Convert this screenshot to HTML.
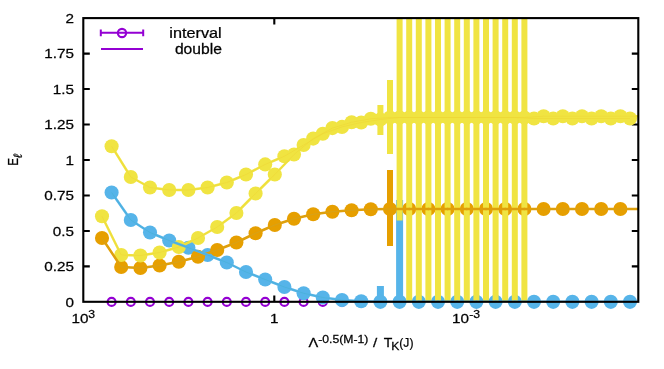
<!DOCTYPE html>
<html><head><meta charset="utf-8"><title>plot</title>
<style>
html,body{margin:0;padding:0;background:#fff;}
svg{display:block;}
text{font-family:"Liberation Sans",sans-serif;fill:#000;}
</style></head><body>
<svg width="664" height="369" viewBox="0 0 664 369">
<rect x="0" y="0" width="664" height="369" fill="#fff"/>
<defs><clipPath id="c"><rect x="83.3" y="18.1" width="555.0" height="283.7"/></clipPath></defs>

<path d="M83.3 266.39h6.5M638.3 266.39h-6.5M83.3 230.93h6.5M638.3 230.93h-6.5M83.3 195.46h6.5M638.3 195.46h-6.5M83.3 160.00h6.5M638.3 160.00h-6.5M83.3 124.54h6.5M638.3 124.54h-6.5M83.3 89.07h6.5M638.3 89.07h-6.5M83.3 53.61h6.5M638.3 53.61h-6.5M274.3 301.9v-6.5M274.3 18.1v6.5M465.3 301.9v-6.5M465.3 18.1v6.5" stroke="#000" stroke-width="2.1" fill="none"/>
<g fill="none" stroke="#9400D3" stroke-width="2.1">
<circle cx="111.60" cy="301.9" r="4.0"/>
<circle cx="130.80" cy="301.9" r="4.0"/>
<circle cx="150.00" cy="301.9" r="4.0"/>
<circle cx="169.20" cy="301.9" r="4.0"/>
<circle cx="188.40" cy="301.9" r="4.0"/>
<circle cx="207.60" cy="301.9" r="4.0"/>
<circle cx="226.80" cy="301.9" r="4.0"/>
<circle cx="246.00" cy="301.9" r="4.0"/>
<circle cx="265.20" cy="301.9" r="4.0"/>
<circle cx="284.40" cy="301.9" r="4.0"/>
<circle cx="303.60" cy="301.9" r="4.0"/>
<circle cx="322.80" cy="301.9" r="4.0"/>
<circle cx="342.00" cy="301.9" r="4.0"/>
<circle cx="361.20" cy="301.9" r="4.0"/>
<circle cx="380.40" cy="301.9" r="4.0"/>
<circle cx="399.60" cy="301.9" r="4.0"/>
<circle cx="418.80" cy="301.9" r="4.0"/>
<circle cx="438.00" cy="301.9" r="4.0"/>
<circle cx="457.20" cy="301.9" r="4.0"/>
<circle cx="476.40" cy="301.9" r="4.0"/>
<circle cx="495.60" cy="301.9" r="4.0"/>
<circle cx="514.80" cy="301.9" r="4.0"/>
<circle cx="534.00" cy="301.9" r="4.0"/>
<circle cx="553.20" cy="301.9" r="4.0"/>
<circle cx="572.40" cy="301.9" r="4.0"/>
<circle cx="591.60" cy="301.9" r="4.0"/>
<circle cx="610.80" cy="301.9" r="4.0"/>
<circle cx="630.00" cy="301.9" r="4.0"/>
</g>
<g>
<circle cx="111.60" cy="192.50" r="7.05" fill="#56B4E9"/>
<circle cx="130.80" cy="220.00" r="7.05" fill="#56B4E9"/>
<circle cx="150.00" cy="232.50" r="7.05" fill="#56B4E9"/>
<circle cx="169.20" cy="240.50" r="7.05" fill="#56B4E9"/>
<circle cx="188.40" cy="247.70" r="7.05" fill="#56B4E9"/>
<circle cx="207.60" cy="255.00" r="7.05" fill="#56B4E9"/>
<circle cx="226.80" cy="262.50" r="7.05" fill="#56B4E9"/>
<circle cx="246.00" cy="272.00" r="7.05" fill="#56B4E9"/>
<circle cx="265.20" cy="279.50" r="7.05" fill="#56B4E9"/>
<circle cx="284.40" cy="287.00" r="7.05" fill="#56B4E9"/>
<circle cx="303.60" cy="293.25" r="7.05" fill="#56B4E9"/>
<circle cx="322.80" cy="297.50" r="7.05" fill="#56B4E9"/>
<circle cx="342.00" cy="300.10" r="7.05" fill="#56B4E9"/>
<circle cx="361.20" cy="301.30" r="7.05" fill="#56B4E9"/>
<rect x="376.90" y="286.0" width="7.0" height="15.9" fill="#56B4E9" clip-path="url(#c)"/>
<circle cx="380.40" cy="301.85" r="7.05" fill="#56B4E9"/>
<rect x="396.10" y="200.0" width="7.0" height="101.9" fill="#56B4E9" clip-path="url(#c)"/>
<circle cx="399.60" cy="301.85" r="7.05" fill="#56B4E9"/>
<circle cx="418.80" cy="301.85" r="7.05" fill="#56B4E9"/>
<circle cx="438.00" cy="301.85" r="7.05" fill="#56B4E9"/>
<circle cx="457.20" cy="301.85" r="7.05" fill="#56B4E9"/>
<circle cx="476.40" cy="301.85" r="7.05" fill="#56B4E9"/>
<circle cx="495.60" cy="301.85" r="7.05" fill="#56B4E9"/>
<circle cx="514.80" cy="301.85" r="7.05" fill="#56B4E9"/>
<circle cx="534.00" cy="301.85" r="7.05" fill="#56B4E9"/>
<circle cx="553.20" cy="301.85" r="7.05" fill="#56B4E9"/>
<circle cx="572.40" cy="301.85" r="7.05" fill="#56B4E9"/>
<circle cx="591.60" cy="301.85" r="7.05" fill="#56B4E9"/>
<circle cx="610.80" cy="301.85" r="7.05" fill="#56B4E9"/>
<circle cx="630.00" cy="301.85" r="7.05" fill="#56B4E9"/>
<circle cx="102.00" cy="238.00" r="7.05" fill="#E69F00"/>
<circle cx="121.20" cy="267.00" r="7.05" fill="#E69F00"/>
<circle cx="140.40" cy="268.00" r="7.05" fill="#E69F00"/>
<circle cx="159.60" cy="265.50" r="7.05" fill="#E69F00"/>
<circle cx="178.80" cy="261.75" r="7.05" fill="#E69F00"/>
<circle cx="198.00" cy="256.75" r="7.05" fill="#E69F00"/>
<circle cx="217.20" cy="250.00" r="7.05" fill="#E69F00"/>
<circle cx="236.40" cy="242.50" r="7.05" fill="#E69F00"/>
<circle cx="255.60" cy="233.25" r="7.05" fill="#E69F00"/>
<circle cx="274.80" cy="225.00" r="7.05" fill="#E69F00"/>
<circle cx="294.00" cy="218.75" r="7.05" fill="#E69F00"/>
<circle cx="313.20" cy="214.25" r="7.05" fill="#E69F00"/>
<circle cx="332.40" cy="211.75" r="7.05" fill="#E69F00"/>
<circle cx="351.60" cy="210.25" r="7.05" fill="#E69F00"/>
<circle cx="370.80" cy="209.30" r="7.05" fill="#E69F00"/>
<rect x="387.00" y="170.0" width="6.0" height="76.0" fill="#E69F00" clip-path="url(#c)"/>
<circle cx="390.00" cy="209.00" r="7.05" fill="#E69F00"/>
<circle cx="409.20" cy="209.00" r="7.05" fill="#E69F00"/>
<circle cx="428.40" cy="209.00" r="7.05" fill="#E69F00"/>
<circle cx="447.60" cy="209.00" r="7.05" fill="#E69F00"/>
<circle cx="466.80" cy="209.00" r="7.05" fill="#E69F00"/>
<circle cx="486.00" cy="209.00" r="7.05" fill="#E69F00"/>
<circle cx="505.20" cy="209.00" r="7.05" fill="#E69F00"/>
<circle cx="524.40" cy="209.00" r="7.05" fill="#E69F00"/>
<circle cx="543.60" cy="209.00" r="7.05" fill="#E69F00"/>
<circle cx="562.80" cy="209.00" r="7.05" fill="#E69F00"/>
<circle cx="582.00" cy="209.00" r="7.05" fill="#E69F00"/>
<circle cx="601.20" cy="209.00" r="7.05" fill="#E69F00"/>
<circle cx="620.40" cy="209.00" r="7.05" fill="#E69F00"/>
<circle cx="102.00" cy="216.25" r="7.05" fill="#F0E442"/>
<circle cx="111.60" cy="146.20" r="7.05" fill="#F0E442"/>
<circle cx="121.20" cy="255.00" r="7.05" fill="#F0E442"/>
<circle cx="130.80" cy="177.00" r="7.05" fill="#F0E442"/>
<circle cx="140.40" cy="255.50" r="7.05" fill="#F0E442"/>
<circle cx="150.00" cy="187.50" r="7.05" fill="#F0E442"/>
<circle cx="159.60" cy="252.50" r="7.05" fill="#F0E442"/>
<circle cx="169.20" cy="190.00" r="7.05" fill="#F0E442"/>
<circle cx="178.80" cy="247.00" r="7.05" fill="#F0E442"/>
<circle cx="188.40" cy="190.00" r="7.05" fill="#F0E442"/>
<circle cx="198.00" cy="238.00" r="7.05" fill="#F0E442"/>
<circle cx="207.60" cy="187.50" r="7.05" fill="#F0E442"/>
<circle cx="217.20" cy="227.00" r="7.05" fill="#F0E442"/>
<circle cx="226.80" cy="182.50" r="7.05" fill="#F0E442"/>
<circle cx="236.40" cy="213.00" r="7.05" fill="#F0E442"/>
<circle cx="246.00" cy="174.50" r="7.05" fill="#F0E442"/>
<circle cx="255.60" cy="193.50" r="7.05" fill="#F0E442"/>
<circle cx="265.20" cy="164.40" r="7.05" fill="#F0E442"/>
<circle cx="274.80" cy="174.50" r="7.05" fill="#F0E442"/>
<circle cx="284.40" cy="156.25" r="7.05" fill="#F0E442"/>
<circle cx="294.00" cy="154.50" r="7.05" fill="#F0E442"/>
<circle cx="303.60" cy="145.00" r="7.05" fill="#F0E442"/>
<circle cx="313.20" cy="138.60" r="7.05" fill="#F0E442"/>
<circle cx="322.80" cy="133.75" r="7.05" fill="#F0E442"/>
<circle cx="332.40" cy="128.10" r="7.05" fill="#F0E442"/>
<circle cx="342.00" cy="126.90" r="7.05" fill="#F0E442"/>
<circle cx="351.60" cy="122.25" r="7.05" fill="#F0E442"/>
<circle cx="361.20" cy="122.50" r="7.05" fill="#F0E442"/>
<circle cx="370.80" cy="118.75" r="7.05" fill="#F0E442"/>
<rect x="377.40" y="105.0" width="6.0" height="30.0" fill="#F0E442" clip-path="url(#c)"/>
<circle cx="380.40" cy="119.50" r="7.05" fill="#F0E442"/>
<rect x="387.00" y="80.0" width="6.0" height="74.0" fill="#F0E442" clip-path="url(#c)"/>
<circle cx="390.00" cy="117.50" r="7.05" fill="#F0E442"/>
<rect x="396.60" y="18.1" width="6.0" height="202.4" fill="#F0E442" clip-path="url(#c)"/>
<circle cx="399.60" cy="117.50" r="7.05" fill="#F0E442"/>
<rect x="406.20" y="18.1" width="6.0" height="283.7" fill="#F0E442" clip-path="url(#c)"/>
<circle cx="409.20" cy="117.50" r="7.05" fill="#F0E442"/>
<rect x="415.80" y="18.1" width="6.0" height="283.7" fill="#F0E442" clip-path="url(#c)"/>
<circle cx="418.80" cy="117.50" r="7.05" fill="#F0E442"/>
<rect x="425.40" y="18.1" width="6.0" height="283.7" fill="#F0E442" clip-path="url(#c)"/>
<circle cx="428.40" cy="117.50" r="7.05" fill="#F0E442"/>
<rect x="435.00" y="18.1" width="6.0" height="283.7" fill="#F0E442" clip-path="url(#c)"/>
<circle cx="438.00" cy="117.50" r="7.05" fill="#F0E442"/>
<rect x="444.60" y="18.1" width="6.0" height="283.7" fill="#F0E442" clip-path="url(#c)"/>
<circle cx="447.60" cy="117.50" r="7.05" fill="#F0E442"/>
<rect x="454.20" y="18.1" width="6.0" height="283.7" fill="#F0E442" clip-path="url(#c)"/>
<circle cx="457.20" cy="117.50" r="7.05" fill="#F0E442"/>
<rect x="463.80" y="18.1" width="6.0" height="283.7" fill="#F0E442" clip-path="url(#c)"/>
<circle cx="466.80" cy="117.50" r="7.05" fill="#F0E442"/>
<rect x="473.40" y="18.1" width="6.0" height="283.7" fill="#F0E442" clip-path="url(#c)"/>
<circle cx="476.40" cy="117.50" r="7.05" fill="#F0E442"/>
<rect x="483.00" y="18.1" width="6.0" height="283.7" fill="#F0E442" clip-path="url(#c)"/>
<circle cx="486.00" cy="117.50" r="7.05" fill="#F0E442"/>
<rect x="492.60" y="18.1" width="6.0" height="283.7" fill="#F0E442" clip-path="url(#c)"/>
<circle cx="495.60" cy="117.50" r="7.05" fill="#F0E442"/>
<rect x="502.20" y="18.1" width="6.0" height="283.7" fill="#F0E442" clip-path="url(#c)"/>
<circle cx="505.20" cy="117.50" r="7.05" fill="#F0E442"/>
<rect x="511.80" y="18.1" width="6.0" height="283.7" fill="#F0E442" clip-path="url(#c)"/>
<circle cx="514.80" cy="117.50" r="7.05" fill="#F0E442"/>
<rect x="521.40" y="18.1" width="6.0" height="283.7" fill="#F0E442" clip-path="url(#c)"/>
<circle cx="524.40" cy="117.50" r="7.05" fill="#F0E442"/>
<circle cx="534.00" cy="118.50" r="7.05" fill="#F0E442"/>
<circle cx="543.60" cy="116.20" r="7.05" fill="#F0E442"/>
<circle cx="553.20" cy="118.50" r="7.05" fill="#F0E442"/>
<circle cx="562.80" cy="116.20" r="7.05" fill="#F0E442"/>
<circle cx="572.40" cy="118.50" r="7.05" fill="#F0E442"/>
<circle cx="582.00" cy="116.20" r="7.05" fill="#F0E442"/>
<circle cx="591.60" cy="118.50" r="7.05" fill="#F0E442"/>
<circle cx="601.20" cy="116.20" r="7.05" fill="#F0E442"/>
<circle cx="610.80" cy="118.50" r="7.05" fill="#F0E442"/>
<circle cx="620.40" cy="116.20" r="7.05" fill="#F0E442"/>
<circle cx="630.00" cy="118.50" r="7.05" fill="#F0E442"/>
</g>
<g stroke-width="2.5" fill="none" stroke-linecap="round" clip-path="url(#c)">
<line x1="102.00" y1="216.25" x2="121.20" y2="255.00" stroke="#F0E442"/>
<line x1="111.60" y1="146.20" x2="130.80" y2="177.00" stroke="#F0E442"/>
<line x1="121.20" y1="255.00" x2="140.40" y2="255.50" stroke="#F0E442"/>
<line x1="130.80" y1="177.00" x2="150.00" y2="187.50" stroke="#F0E442"/>
<line x1="140.40" y1="255.50" x2="159.60" y2="252.50" stroke="#F0E442"/>
<line x1="150.00" y1="187.50" x2="169.20" y2="190.00" stroke="#F0E442"/>
<line x1="159.60" y1="252.50" x2="178.80" y2="247.00" stroke="#F0E442"/>
<line x1="169.20" y1="190.00" x2="188.40" y2="190.00" stroke="#F0E442"/>
<line x1="178.80" y1="247.00" x2="198.00" y2="238.00" stroke="#F0E442"/>
<line x1="188.40" y1="190.00" x2="207.60" y2="187.50" stroke="#F0E442"/>
<line x1="198.00" y1="238.00" x2="217.20" y2="227.00" stroke="#F0E442"/>
<line x1="207.60" y1="187.50" x2="226.80" y2="182.50" stroke="#F0E442"/>
<line x1="217.20" y1="227.00" x2="236.40" y2="213.00" stroke="#F0E442"/>
<line x1="226.80" y1="182.50" x2="246.00" y2="174.50" stroke="#F0E442"/>
<line x1="236.40" y1="213.00" x2="255.60" y2="193.50" stroke="#F0E442"/>
<line x1="246.00" y1="174.50" x2="265.20" y2="164.40" stroke="#F0E442"/>
<line x1="255.60" y1="193.50" x2="274.80" y2="174.50" stroke="#F0E442"/>
<line x1="265.20" y1="164.40" x2="284.40" y2="156.25" stroke="#F0E442"/>
<line x1="274.80" y1="174.50" x2="294.00" y2="154.50" stroke="#F0E442"/>
<line x1="284.40" y1="156.25" x2="303.60" y2="145.00" stroke="#F0E442"/>
<line x1="294.00" y1="154.50" x2="313.20" y2="138.60" stroke="#F0E442"/>
<line x1="303.60" y1="145.00" x2="322.80" y2="133.75" stroke="#F0E442"/>
<line x1="313.20" y1="138.60" x2="332.40" y2="128.10" stroke="#F0E442"/>
<line x1="322.80" y1="133.75" x2="342.00" y2="126.90" stroke="#F0E442"/>
<line x1="332.40" y1="128.10" x2="351.60" y2="122.25" stroke="#F0E442"/>
<line x1="342.00" y1="126.90" x2="361.20" y2="122.50" stroke="#F0E442"/>
<line x1="351.60" y1="122.25" x2="370.80" y2="118.75" stroke="#F0E442"/>
<line x1="361.20" y1="122.50" x2="380.40" y2="119.50" stroke="#F0E442"/>
<line x1="370.80" y1="118.75" x2="390.00" y2="117.50" stroke="#F0E442"/>
<line x1="380.40" y1="119.50" x2="399.60" y2="117.50" stroke="#F0E442"/>
<line x1="390.00" y1="117.50" x2="409.20" y2="117.50" stroke="#F0E442"/>
<line x1="399.60" y1="117.50" x2="418.80" y2="117.50" stroke="#F0E442"/>
<line x1="409.20" y1="117.50" x2="428.40" y2="117.50" stroke="#F0E442"/>
<line x1="418.80" y1="117.50" x2="438.00" y2="117.50" stroke="#F0E442"/>
<line x1="428.40" y1="117.50" x2="447.60" y2="117.50" stroke="#F0E442"/>
<line x1="438.00" y1="117.50" x2="457.20" y2="117.50" stroke="#F0E442"/>
<line x1="447.60" y1="117.50" x2="466.80" y2="117.50" stroke="#F0E442"/>
<line x1="457.20" y1="117.50" x2="476.40" y2="117.50" stroke="#F0E442"/>
<line x1="466.80" y1="117.50" x2="486.00" y2="117.50" stroke="#F0E442"/>
<line x1="476.40" y1="117.50" x2="495.60" y2="117.50" stroke="#F0E442"/>
<line x1="486.00" y1="117.50" x2="505.20" y2="117.50" stroke="#F0E442"/>
<line x1="495.60" y1="117.50" x2="514.80" y2="117.50" stroke="#F0E442"/>
<line x1="505.20" y1="117.50" x2="524.40" y2="117.50" stroke="#F0E442"/>
<line x1="514.80" y1="117.50" x2="534.00" y2="118.50" stroke="#F0E442"/>
<line x1="524.40" y1="117.50" x2="543.60" y2="116.20" stroke="#F0E442"/>
<line x1="534.00" y1="118.50" x2="553.20" y2="118.50" stroke="#F0E442"/>
<line x1="543.60" y1="116.20" x2="562.80" y2="116.20" stroke="#F0E442"/>
<line x1="553.20" y1="118.50" x2="572.40" y2="118.50" stroke="#F0E442"/>
<line x1="562.80" y1="116.20" x2="582.00" y2="116.20" stroke="#F0E442"/>
<line x1="572.40" y1="118.50" x2="591.60" y2="118.50" stroke="#F0E442"/>
<line x1="582.00" y1="116.20" x2="601.20" y2="116.20" stroke="#F0E442"/>
<line x1="591.60" y1="118.50" x2="610.80" y2="118.50" stroke="#F0E442"/>
<line x1="601.20" y1="116.20" x2="620.40" y2="116.20" stroke="#F0E442"/>
<line x1="610.80" y1="118.50" x2="630.00" y2="118.50" stroke="#F0E442"/>
<line x1="620.40" y1="116.20" x2="638.30" y2="116.20" stroke="#F0E442"/>
<line x1="102.00" y1="238.00" x2="121.20" y2="267.00" stroke="#E69F00"/>
<line x1="121.20" y1="267.00" x2="140.40" y2="268.00" stroke="#E69F00"/>
<line x1="140.40" y1="268.00" x2="159.60" y2="265.50" stroke="#E69F00"/>
<line x1="159.60" y1="265.50" x2="178.80" y2="261.75" stroke="#E69F00"/>
<line x1="178.80" y1="261.75" x2="198.00" y2="256.75" stroke="#E69F00"/>
<line x1="198.00" y1="256.75" x2="217.20" y2="250.00" stroke="#E69F00"/>
<line x1="217.20" y1="250.00" x2="236.40" y2="242.50" stroke="#E69F00"/>
<line x1="236.40" y1="242.50" x2="255.60" y2="233.25" stroke="#E69F00"/>
<line x1="255.60" y1="233.25" x2="274.80" y2="225.00" stroke="#E69F00"/>
<line x1="274.80" y1="225.00" x2="294.00" y2="218.75" stroke="#E69F00"/>
<line x1="294.00" y1="218.75" x2="313.20" y2="214.25" stroke="#E69F00"/>
<line x1="313.20" y1="214.25" x2="332.40" y2="211.75" stroke="#E69F00"/>
<line x1="332.40" y1="211.75" x2="351.60" y2="210.25" stroke="#E69F00"/>
<line x1="351.60" y1="210.25" x2="370.80" y2="209.30" stroke="#E69F00"/>
<line x1="370.80" y1="209.30" x2="390.00" y2="209.00" stroke="#E69F00"/>
<line x1="390.00" y1="209.00" x2="409.20" y2="209.00" stroke="#E69F00"/>
<line x1="409.20" y1="209.00" x2="428.40" y2="209.00" stroke="#E69F00"/>
<line x1="428.40" y1="209.00" x2="447.60" y2="209.00" stroke="#E69F00"/>
<line x1="447.60" y1="209.00" x2="466.80" y2="209.00" stroke="#E69F00"/>
<line x1="466.80" y1="209.00" x2="486.00" y2="209.00" stroke="#E69F00"/>
<line x1="486.00" y1="209.00" x2="505.20" y2="209.00" stroke="#E69F00"/>
<line x1="505.20" y1="209.00" x2="524.40" y2="209.00" stroke="#E69F00"/>
<line x1="524.40" y1="209.00" x2="543.60" y2="209.00" stroke="#E69F00"/>
<line x1="543.60" y1="209.00" x2="562.80" y2="209.00" stroke="#E69F00"/>
<line x1="562.80" y1="209.00" x2="582.00" y2="209.00" stroke="#E69F00"/>
<line x1="582.00" y1="209.00" x2="601.20" y2="209.00" stroke="#E69F00"/>
<line x1="601.20" y1="209.00" x2="620.40" y2="209.00" stroke="#E69F00"/>
<line x1="620.40" y1="209.00" x2="638.30" y2="209.00" stroke="#E69F00"/>
<line x1="111.60" y1="192.50" x2="130.80" y2="220.00" stroke="#56B4E9"/>
<line x1="130.80" y1="220.00" x2="150.00" y2="232.50" stroke="#56B4E9"/>
<line x1="150.00" y1="232.50" x2="169.20" y2="240.50" stroke="#56B4E9"/>
<line x1="169.20" y1="240.50" x2="188.40" y2="247.70" stroke="#56B4E9"/>
<line x1="188.40" y1="247.70" x2="207.60" y2="255.00" stroke="#56B4E9"/>
<line x1="207.60" y1="255.00" x2="226.80" y2="262.50" stroke="#56B4E9"/>
<line x1="226.80" y1="262.50" x2="246.00" y2="272.00" stroke="#56B4E9"/>
<line x1="246.00" y1="272.00" x2="265.20" y2="279.50" stroke="#56B4E9"/>
<line x1="265.20" y1="279.50" x2="284.40" y2="287.00" stroke="#56B4E9"/>
<line x1="284.40" y1="287.00" x2="303.60" y2="293.25" stroke="#56B4E9"/>
<line x1="303.60" y1="293.25" x2="322.80" y2="297.50" stroke="#56B4E9"/>
<line x1="322.80" y1="297.50" x2="342.00" y2="300.10" stroke="#56B4E9"/>
<line x1="342.00" y1="300.10" x2="361.20" y2="301.30" stroke="#56B4E9"/>
<line x1="361.20" y1="301.30" x2="380.40" y2="301.85" stroke="#56B4E9"/>
<line x1="380.40" y1="301.85" x2="399.60" y2="301.85" stroke="#56B4E9"/>
<line x1="399.60" y1="301.85" x2="418.80" y2="301.85" stroke="#56B4E9"/>
<line x1="418.80" y1="301.85" x2="438.00" y2="301.85" stroke="#56B4E9"/>
<line x1="438.00" y1="301.85" x2="457.20" y2="301.85" stroke="#56B4E9"/>
<line x1="457.20" y1="301.85" x2="476.40" y2="301.85" stroke="#56B4E9"/>
<line x1="476.40" y1="301.85" x2="495.60" y2="301.85" stroke="#56B4E9"/>
<line x1="495.60" y1="301.85" x2="514.80" y2="301.85" stroke="#56B4E9"/>
<line x1="514.80" y1="301.85" x2="534.00" y2="301.85" stroke="#56B4E9"/>
<line x1="534.00" y1="301.85" x2="553.20" y2="301.85" stroke="#56B4E9"/>
<line x1="553.20" y1="301.85" x2="572.40" y2="301.85" stroke="#56B4E9"/>
<line x1="572.40" y1="301.85" x2="591.60" y2="301.85" stroke="#56B4E9"/>
<line x1="591.60" y1="301.85" x2="610.80" y2="301.85" stroke="#56B4E9"/>
<line x1="610.80" y1="301.85" x2="630.00" y2="301.85" stroke="#56B4E9"/>
</g>
<g stroke-width="0.5" fill="none" opacity="0.22">
<line x1="102.00" y1="216.25" x2="121.20" y2="255.00" stroke="#E69F00"/>
<line x1="111.60" y1="146.20" x2="130.80" y2="177.00" stroke="#E69F00"/>
<line x1="121.20" y1="255.00" x2="140.40" y2="255.50" stroke="#E69F00"/>
<line x1="130.80" y1="177.00" x2="150.00" y2="187.50" stroke="#E69F00"/>
<line x1="140.40" y1="255.50" x2="159.60" y2="252.50" stroke="#E69F00"/>
<line x1="150.00" y1="187.50" x2="169.20" y2="190.00" stroke="#E69F00"/>
<line x1="159.60" y1="252.50" x2="178.80" y2="247.00" stroke="#E69F00"/>
<line x1="169.20" y1="190.00" x2="188.40" y2="190.00" stroke="#E69F00"/>
<line x1="178.80" y1="247.00" x2="198.00" y2="238.00" stroke="#E69F00"/>
<line x1="188.40" y1="190.00" x2="207.60" y2="187.50" stroke="#E69F00"/>
<line x1="198.00" y1="238.00" x2="217.20" y2="227.00" stroke="#E69F00"/>
<line x1="207.60" y1="187.50" x2="226.80" y2="182.50" stroke="#E69F00"/>
<line x1="217.20" y1="227.00" x2="236.40" y2="213.00" stroke="#E69F00"/>
<line x1="226.80" y1="182.50" x2="246.00" y2="174.50" stroke="#E69F00"/>
<line x1="236.40" y1="213.00" x2="255.60" y2="193.50" stroke="#E69F00"/>
<line x1="246.00" y1="174.50" x2="265.20" y2="164.40" stroke="#E69F00"/>
<line x1="255.60" y1="193.50" x2="274.80" y2="174.50" stroke="#E69F00"/>
<line x1="265.20" y1="164.40" x2="284.40" y2="156.25" stroke="#E69F00"/>
<line x1="274.80" y1="174.50" x2="294.00" y2="154.50" stroke="#E69F00"/>
<line x1="284.40" y1="156.25" x2="303.60" y2="145.00" stroke="#E69F00"/>
<line x1="294.00" y1="154.50" x2="313.20" y2="138.60" stroke="#E69F00"/>
<line x1="303.60" y1="145.00" x2="322.80" y2="133.75" stroke="#E69F00"/>
<line x1="313.20" y1="138.60" x2="332.40" y2="128.10" stroke="#E69F00"/>
<line x1="322.80" y1="133.75" x2="342.00" y2="126.90" stroke="#E69F00"/>
<line x1="332.40" y1="128.10" x2="351.60" y2="122.25" stroke="#E69F00"/>
<line x1="342.00" y1="126.90" x2="361.20" y2="122.50" stroke="#E69F00"/>
<line x1="351.60" y1="122.25" x2="370.80" y2="118.75" stroke="#E69F00"/>
<line x1="361.20" y1="122.50" x2="380.40" y2="119.50" stroke="#E69F00"/>
<line x1="370.80" y1="118.75" x2="390.00" y2="117.50" stroke="#E69F00"/>
<line x1="380.40" y1="119.50" x2="399.60" y2="117.50" stroke="#E69F00"/>
<line x1="390.00" y1="117.50" x2="409.20" y2="117.50" stroke="#E69F00"/>
<line x1="399.60" y1="117.50" x2="418.80" y2="117.50" stroke="#E69F00"/>
<line x1="409.20" y1="117.50" x2="428.40" y2="117.50" stroke="#E69F00"/>
<line x1="418.80" y1="117.50" x2="438.00" y2="117.50" stroke="#E69F00"/>
<line x1="428.40" y1="117.50" x2="447.60" y2="117.50" stroke="#E69F00"/>
<line x1="438.00" y1="117.50" x2="457.20" y2="117.50" stroke="#E69F00"/>
<line x1="447.60" y1="117.50" x2="466.80" y2="117.50" stroke="#E69F00"/>
<line x1="457.20" y1="117.50" x2="476.40" y2="117.50" stroke="#E69F00"/>
<line x1="466.80" y1="117.50" x2="486.00" y2="117.50" stroke="#E69F00"/>
<line x1="476.40" y1="117.50" x2="495.60" y2="117.50" stroke="#E69F00"/>
<line x1="486.00" y1="117.50" x2="505.20" y2="117.50" stroke="#E69F00"/>
<line x1="495.60" y1="117.50" x2="514.80" y2="117.50" stroke="#E69F00"/>
<line x1="505.20" y1="117.50" x2="524.40" y2="117.50" stroke="#E69F00"/>
<line x1="514.80" y1="117.50" x2="534.00" y2="118.50" stroke="#E69F00"/>
<line x1="524.40" y1="117.50" x2="543.60" y2="116.20" stroke="#E69F00"/>
<line x1="534.00" y1="118.50" x2="553.20" y2="118.50" stroke="#E69F00"/>
<line x1="543.60" y1="116.20" x2="562.80" y2="116.20" stroke="#E69F00"/>
<line x1="553.20" y1="118.50" x2="572.40" y2="118.50" stroke="#E69F00"/>
<line x1="562.80" y1="116.20" x2="582.00" y2="116.20" stroke="#E69F00"/>
<line x1="572.40" y1="118.50" x2="591.60" y2="118.50" stroke="#E69F00"/>
<line x1="582.00" y1="116.20" x2="601.20" y2="116.20" stroke="#E69F00"/>
<line x1="591.60" y1="118.50" x2="610.80" y2="118.50" stroke="#E69F00"/>
<line x1="601.20" y1="116.20" x2="620.40" y2="116.20" stroke="#E69F00"/>
<line x1="610.80" y1="118.50" x2="630.00" y2="118.50" stroke="#E69F00"/>
<line x1="620.40" y1="116.20" x2="638.30" y2="116.20" stroke="#E69F00"/>
<line x1="102.00" y1="238.00" x2="121.20" y2="267.00" stroke="#56B4E9"/>
<line x1="121.20" y1="267.00" x2="140.40" y2="268.00" stroke="#56B4E9"/>
<line x1="140.40" y1="268.00" x2="159.60" y2="265.50" stroke="#56B4E9"/>
<line x1="159.60" y1="265.50" x2="178.80" y2="261.75" stroke="#56B4E9"/>
<line x1="178.80" y1="261.75" x2="198.00" y2="256.75" stroke="#56B4E9"/>
<line x1="198.00" y1="256.75" x2="217.20" y2="250.00" stroke="#56B4E9"/>
<line x1="217.20" y1="250.00" x2="236.40" y2="242.50" stroke="#56B4E9"/>
<line x1="236.40" y1="242.50" x2="255.60" y2="233.25" stroke="#56B4E9"/>
<line x1="255.60" y1="233.25" x2="274.80" y2="225.00" stroke="#56B4E9"/>
<line x1="274.80" y1="225.00" x2="294.00" y2="218.75" stroke="#56B4E9"/>
<line x1="294.00" y1="218.75" x2="313.20" y2="214.25" stroke="#56B4E9"/>
<line x1="313.20" y1="214.25" x2="332.40" y2="211.75" stroke="#56B4E9"/>
<line x1="332.40" y1="211.75" x2="351.60" y2="210.25" stroke="#56B4E9"/>
<line x1="351.60" y1="210.25" x2="370.80" y2="209.30" stroke="#56B4E9"/>
<line x1="370.80" y1="209.30" x2="390.00" y2="209.00" stroke="#56B4E9"/>
<line x1="390.00" y1="209.00" x2="409.20" y2="209.00" stroke="#56B4E9"/>
<line x1="409.20" y1="209.00" x2="428.40" y2="209.00" stroke="#56B4E9"/>
<line x1="428.40" y1="209.00" x2="447.60" y2="209.00" stroke="#56B4E9"/>
<line x1="447.60" y1="209.00" x2="466.80" y2="209.00" stroke="#56B4E9"/>
<line x1="466.80" y1="209.00" x2="486.00" y2="209.00" stroke="#56B4E9"/>
<line x1="486.00" y1="209.00" x2="505.20" y2="209.00" stroke="#56B4E9"/>
<line x1="505.20" y1="209.00" x2="524.40" y2="209.00" stroke="#56B4E9"/>
<line x1="524.40" y1="209.00" x2="543.60" y2="209.00" stroke="#56B4E9"/>
<line x1="543.60" y1="209.00" x2="562.80" y2="209.00" stroke="#56B4E9"/>
<line x1="562.80" y1="209.00" x2="582.00" y2="209.00" stroke="#56B4E9"/>
<line x1="582.00" y1="209.00" x2="601.20" y2="209.00" stroke="#56B4E9"/>
<line x1="601.20" y1="209.00" x2="620.40" y2="209.00" stroke="#56B4E9"/>
<line x1="620.40" y1="209.00" x2="638.30" y2="209.00" stroke="#56B4E9"/>
<line x1="111.60" y1="192.50" x2="130.80" y2="220.00" stroke="#009E73"/>
<line x1="130.80" y1="220.00" x2="150.00" y2="232.50" stroke="#009E73"/>
<line x1="150.00" y1="232.50" x2="169.20" y2="240.50" stroke="#009E73"/>
<line x1="169.20" y1="240.50" x2="188.40" y2="247.70" stroke="#009E73"/>
<line x1="188.40" y1="247.70" x2="207.60" y2="255.00" stroke="#009E73"/>
<line x1="207.60" y1="255.00" x2="226.80" y2="262.50" stroke="#009E73"/>
<line x1="226.80" y1="262.50" x2="246.00" y2="272.00" stroke="#009E73"/>
<line x1="246.00" y1="272.00" x2="265.20" y2="279.50" stroke="#009E73"/>
<line x1="265.20" y1="279.50" x2="284.40" y2="287.00" stroke="#009E73"/>
<line x1="284.40" y1="287.00" x2="303.60" y2="293.25" stroke="#009E73"/>
<line x1="303.60" y1="293.25" x2="322.80" y2="297.50" stroke="#009E73"/>
<line x1="322.80" y1="297.50" x2="342.00" y2="300.10" stroke="#009E73"/>
<line x1="342.00" y1="300.10" x2="361.20" y2="301.30" stroke="#009E73"/>
<line x1="361.20" y1="301.30" x2="380.40" y2="301.85" stroke="#009E73"/>
<line x1="380.40" y1="301.85" x2="399.60" y2="301.85" stroke="#009E73"/>
<line x1="399.60" y1="301.85" x2="418.80" y2="301.85" stroke="#009E73"/>
<line x1="418.80" y1="301.85" x2="438.00" y2="301.85" stroke="#009E73"/>
<line x1="438.00" y1="301.85" x2="457.20" y2="301.85" stroke="#009E73"/>
<line x1="457.20" y1="301.85" x2="476.40" y2="301.85" stroke="#009E73"/>
<line x1="476.40" y1="301.85" x2="495.60" y2="301.85" stroke="#009E73"/>
<line x1="495.60" y1="301.85" x2="514.80" y2="301.85" stroke="#009E73"/>
<line x1="514.80" y1="301.85" x2="534.00" y2="301.85" stroke="#009E73"/>
<line x1="534.00" y1="301.85" x2="553.20" y2="301.85" stroke="#009E73"/>
<line x1="553.20" y1="301.85" x2="572.40" y2="301.85" stroke="#009E73"/>
<line x1="572.40" y1="301.85" x2="591.60" y2="301.85" stroke="#009E73"/>
<line x1="591.60" y1="301.85" x2="610.80" y2="301.85" stroke="#009E73"/>
<line x1="610.80" y1="301.85" x2="630.00" y2="301.85" stroke="#009E73"/>
</g>
<g stroke="#9400D3" stroke-width="2" fill="none">
<path d="M100.8 32.8H143.2M100.8 29.4V36.2M143.2 29.4V36.2M101 49H143"/>
<circle cx="122" cy="33" r="4.15" stroke-width="2.1"/>
</g>
<g stroke="#000" stroke-width="2.1" fill="none" stroke-linecap="butt">
<rect x="83.3" y="18.1" width="555.0" height="283.7"/>
</g>
<g opacity="0.999" stroke="#000" stroke-width="0.25">
<text transform="translate(73.90 306.65) scale(1.130 1)" font-size="13.50" text-anchor="end">0</text>
<text transform="translate(73.90 271.19) scale(1.130 1)" font-size="13.50" text-anchor="end">0.25</text>
<text transform="translate(73.90 235.73) scale(1.130 1)" font-size="13.50" text-anchor="end">0.5</text>
<text transform="translate(73.90 200.26) scale(1.130 1)" font-size="13.50" text-anchor="end">0.75</text>
<text transform="translate(73.90 164.80) scale(1.130 1)" font-size="13.50" text-anchor="end">1</text>
<text transform="translate(73.90 129.34) scale(1.130 1)" font-size="13.50" text-anchor="end">1.25</text>
<text transform="translate(73.90 93.87) scale(1.130 1)" font-size="13.50" text-anchor="end">1.5</text>
<text transform="translate(73.90 58.41) scale(1.130 1)" font-size="13.50" text-anchor="end">1.75</text>
<text transform="translate(73.90 22.95) scale(1.130 1)" font-size="13.50" text-anchor="end">2</text>
<text transform="translate(221.70 37.60) scale(1.144 1)" font-size="14.20" text-anchor="end">interval</text>
<text transform="translate(221.90 53.80) scale(1.103 1)" font-size="14.20" text-anchor="end">double</text>
<text transform="translate(71.60 323.00) scale(1.130 1)" font-size="13.50" text-anchor="start">10</text>
<text transform="translate(88.30 317.60) scale(1.130 1)" font-size="10.80" text-anchor="start">3</text>
<text transform="translate(274.30 323.00) scale(1.130 1)" font-size="13.50" text-anchor="middle">1</text>
<text transform="translate(452.00 323.00) scale(1.130 1)" font-size="13.50" text-anchor="start">10</text>
<text transform="translate(469.20 317.60) scale(1.130 1)" font-size="10.80" text-anchor="start">-3</text>
<text transform="translate(308.40 347.30) scale(1.080 1)" font-size="13.50" text-anchor="start">&#923;</text>
<text transform="translate(318.20 342.90) scale(1.130 1)" font-size="10.80" text-anchor="start">-0.5(M-1)</text>
<text transform="translate(372.90 347.30) scale(1.130 1)" font-size="13.50" text-anchor="start">/</text>
<text transform="translate(383.80 347.30) scale(1.040 1)" font-size="13.50" text-anchor="start">T</text>
<text transform="translate(391.20 350.20) scale(1.130 1)" font-size="10.80" text-anchor="start">K</text>
<text transform="translate(399.30 347.30) scale(0.900 1)" font-size="13.50" text-anchor="start">(J)</text>
<text transform="translate(17.9 165.7) rotate(-90) scale(0.87 1.06)" font-size="13.50">E</text>
<text transform="translate(22 158.3) rotate(-90) scale(1 1)" font-size="12" font-style="italic">&#8467;</text>
</g>
</svg></body></html>
